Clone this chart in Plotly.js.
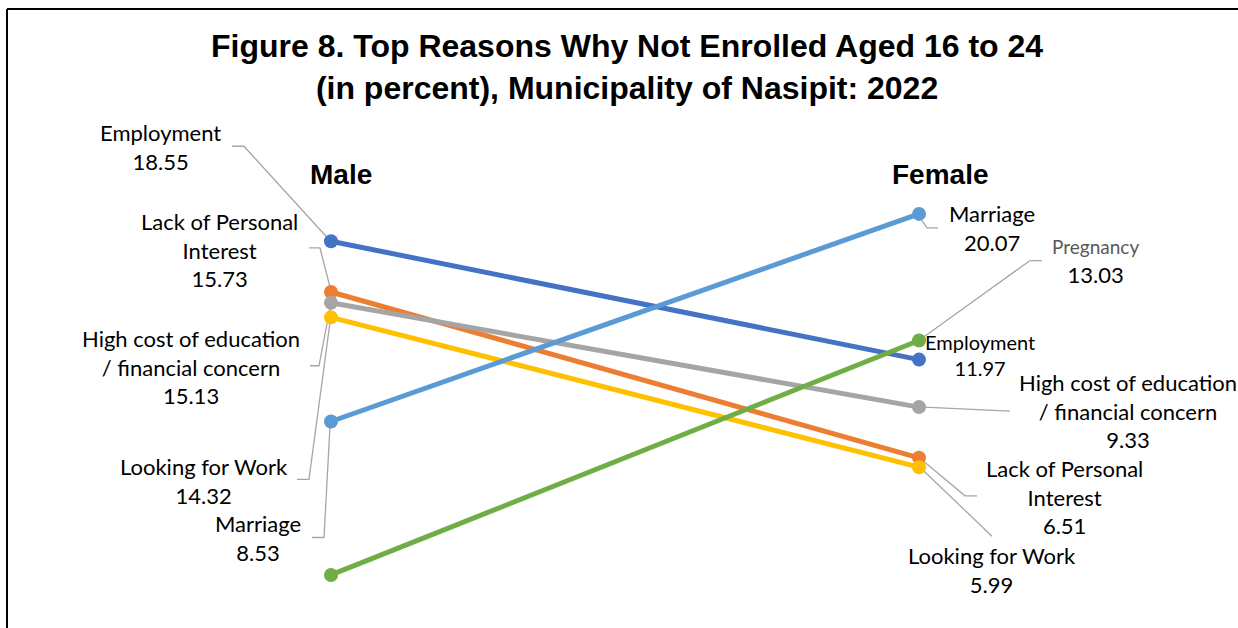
<!DOCTYPE html>
<html><head><meta charset="utf-8">
<script src="https://cdn.plot.ly/plotly-3.0.1.min.js"></script>
<style>html,body{margin:0;padding:0;background:#fff;overflow:hidden;} #chart{width:1238px;height:628px;}</style>
</head><body><div id="chart"></div>
<script>
// ---- data ----
const categories = ['Male', 'Female'];
const reasons = ['Employment', 'Lack of Personal Interest', 'High cost of education / financial concern', 'Looking for Work', 'Marriage', 'Pregnancy'];
const maleValues = [18.55, 15.73, 15.13, 14.32, 8.53, 0];
const femaleValues = [11.97, 6.51, 9.33, 5.99, 20.07, 13.03];
const chartTitle = 'Figure 8. Top Reasons Why Not Enrolled Aged 16 to 24<br>(in percent), Municipality of Nasipit: 2022';

// ---- styles / label placement ----
const seriesColors = ['#4472C4', '#ED7D31', '#A5A5A5', '#FFC000', '#5B9BD5', '#70AD47'];
const wrapped = {
  'Lack of Personal Interest': 'Lack of Personal<br>Interest',
  'High cost of education / financial concern': 'High cost of education<br>/ financial concern'
};
// offsets in pixels from each point (dx right, dy up) and leader paths (pixel, y up)
const labelPlacement = [
  { // Male
    'Employment': {dx: -170, dy: 94, path: 'M-99,95 L-87,95 L-5,5'},
    'Lack of Personal Interest': {dx: -111, dy: 42, path: 'M-22,44 L-11,44 L-1,5'},
    'High cost of education / financial concern': {dx: -140, dy: -64, path: 'M-21,-63 L-12,-63 L-1,-5'},
    'Looking for Work': {dx: -127, dy: -164, path: 'M-34,-162 L-22,-162 L-1,-5'},
    'Marriage': {dx: -73, dy: -117, path: 'M-19,-116 L-7,-116 L-1,-5'}
  },
  { // Female
    'Marriage': {dx: 73, dy: -14, path: 'M1,-4 L8,-14 L19,-14'},
    'Pregnancy': {dx: 176, dy: 79, path: 'M123,80 L111,80 L4,3', small: true},
    'Employment': {dx: 61, dy: 5, size: 20},
    'High cost of education / financial concern': {dx: 209, dy: -4, path: 'M5,0 L91,-4'},
    'Lack of Personal Interest': {dx: 145, dy: -39, path: 'M4,-3 L46,-38 L58,-38'},
    'Looking for Work': {dx: 73, dy: -103, path: 'M4,-3 L73,-69'}
  }
];

const labelFont = 'Lato, "Open Sans", sans-serif';
const boldFont = '"Liberation Sans", Arial, sans-serif';

const traces = reasons.map((r, i) => ({
  type: 'scatter',
  mode: 'lines+markers',
  name: r,
  x: categories,
  y: [maleValues[i], femaleValues[i]],
  line: {color: seriesColors[i], width: 5},
  marker: {color: seriesColors[i], size: 14},
  hoverinfo: 'skip'
}));

const annotations = [];
const shapes = [];
[maleValues, femaleValues].forEach((vals, side) => {
  reasons.forEach((r, i) => {
    const p = labelPlacement[side][r];
    if (!p) return;
    const name = wrapped[r] || r;
    const val = vals[i].toFixed(2);
    const text = p.small
      ? '<span style="color:#595959;font-size:19px">' + name + '</span><br>' + val
      : name + '<br>' + val;
    annotations.push({
      x: categories[side], y: vals[i], xref: 'x', yref: 'y',
      text: text, showarrow: false, xanchor: 'center', yanchor: 'middle',
      xshift: p.dx, yshift: p.dy, align: 'center',
      font: {family: labelFont, size: p.size || 22, color: '#000'}
    });
    if (p.path) {
      shapes.push({
        type: 'path', xref: 'x', yref: 'y', xsizemode: 'pixel', ysizemode: 'pixel',
        xanchor: side, yanchor: vals[i], path: p.path, layer: 'below',
        line: {color: '#A6A6A6', width: 1.3}
      });
    }
  });
});

// category headings
const headShift = [10, 21];
categories.forEach((c, k) => {
  annotations.push({
    x: c, y: 0.7334, xref: 'x', yref: 'paper', text: c, showarrow: false,
    xanchor: 'center', yanchor: 'middle', xshift: headShift[k],
    font: {family: boldFont, size: 28, color: '#000', weight: 'bold'}
  });
});

// chart border (top and left visible edges)
shapes.push({type: 'line', xref: 'paper', yref: 'paper', x0: 0, x1: 1, y0: 1, y1: 1, line: {color: '#000', width: 2}});
shapes.push({type: 'line', xref: 'paper', yref: 'paper', x0: 0, x1: 0, y0: 0, y1: 1, line: {color: '#000', width: 2}});

const layout = {
  width: 1238, height: 628,
  margin: {l: 7, r: 0, t: 9, b: 0, pad: 0},
  paper_bgcolor: '#fff', plot_bgcolor: '#fff',
  showlegend: false,
  title: {
    text: chartTitle, xref: 'container', yref: 'container',
    x: 0.5065, y: 0.909, xanchor: 'center', yanchor: 'middle',
    font: {family: boldFont, size: 32, color: '#000', weight: 'bold'}
  },
  xaxis: {type: 'category', range: [-0.551, 1.5425], visible: false, fixedrange: true},
  yaxis: {range: [-2.95, 31.46], visible: false, fixedrange: true},
  annotations: annotations,
  shapes: shapes
};

Plotly.newPlot('chart', traces, layout, {displayModeBar: false, staticPlot: true});
</script>
</body></html>
